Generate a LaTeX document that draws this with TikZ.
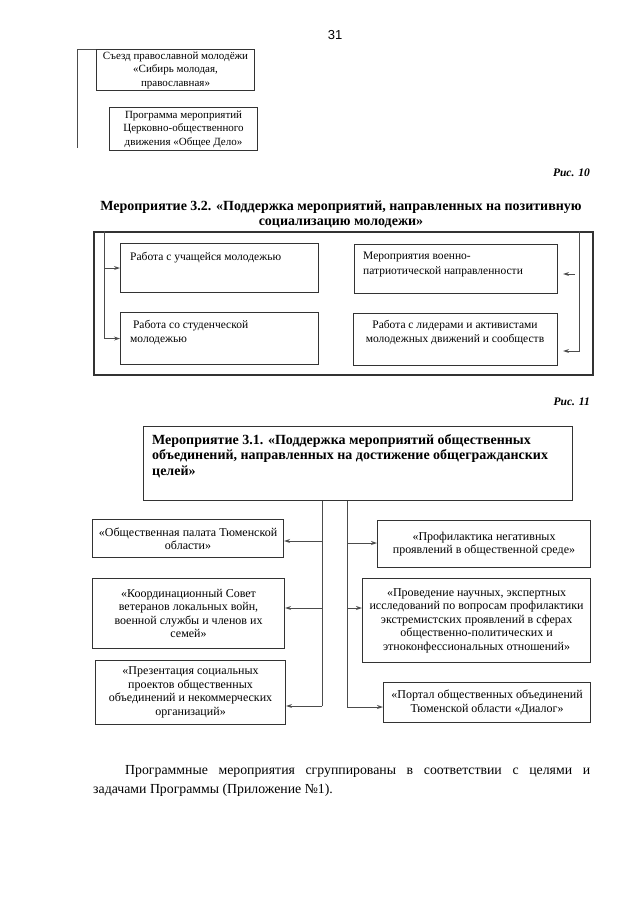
\documentclass[tikz,border=0pt]{standalone}
\usepackage{fontspec}
\setmainfont{Liberation Serif}
\newfontfamily\pagenofont{Liberation Sans}
\usetikzlibrary{positioning,arrows.meta}

\begin{document}
\begin{tikzpicture}[x=1pt, y=-1pt,
  frm/.style={draw=black!80, line width=1.1pt, inner sep=0pt},
  boxtxt/.style={font=\fontsize{12}{13.5}\selectfont, align=center},
  oldtxt/.style={font=\fontsize{11}{13.5}\selectfont, align=center},
  txt/.style={font=\fontsize{11.5}{14.5}\selectfont, inner sep=0pt},
  lnk/.style={draw=black!70, line width=1pt},
  arr/.style={lnk, -{Stealth[length=6pt, width=4pt]}},
  figcap/.style={font=\fontsize{11.5}{13}\selectfont\bfseries\itshape, anchor=east, inner sep=0pt},
  hd/.style={font=\fontsize{14}{15.5}\selectfont\bfseries, inner sep=0pt}]
\useasboundingbox (0,0) rectangle (640,905);
\node[font=\pagenofont\fontsize{13}{15}\selectfont] (pgno) at (335,35) {31};

\node[frm, oldtxt, minimum width=158, minimum height=41, anchor=north west] (syezd) at (96,49) {Съезд православной молодёжи\\«Сибирь молодая,\\православная»};
\node[frm, oldtxt, minimum width=148, minimum height=43, anchor=north west] (delo) at (109,107) {Программа мероприятий\\Церковно-общественного\\движения «Общее Дело»};
\coordinate (tail) at (77,148);
\draw[lnk] (syezd.north west) -| (tail);

\node[figcap] (cap10) at (590,173) {Рис. 10};
\node[hd, align=center] (ttl32) at (341,214.5) {Мероприятие 3.2. «Поддержка мероприятий, направленных на позитивную\\социализацию молодежи»};

\node[frm, line width=1.5pt, minimum width=499, minimum height=143, anchor=north west] (outer) at (93,231) {};
\node[frm, minimum width=198, minimum height=49, anchor=north west] (school) at (120,243) {};
\node[frm, minimum width=198, minimum height=52, anchor=north west] (student) at (120,312) {};
\node[frm, minimum width=203, minimum height=49, anchor=north west] (patriot) at (354,244) {};
\node[frm, minimum width=204, minimum height=52, anchor=north west] (leader) at (353,313) {};
\node[txt, anchor=north west] (schoolt) at (130,252) {Работа с учащейся молодежью};
\node[txt, anchor=north west, align=left] (studentt) at (130,320) {\ Работа со студенческой\\молодежью};
\node[txt, anchor=north west, align=left] (patriott) at (363,252) {Мероприятия военно-\\патриотической направленности};
\node[txt, anchor=north, align=center] (leadert) at (455,320) {Работа с лидерами и активистами\\молодежных движений и сообществ};
\coordinate (ltop) at (104,231);
\coordinate (rtop) at (579,231);
\coordinate (pstub) at (575,274);
\draw[arr] (ltop |- school.west) -- (school.west);
\draw[arr] (ltop) |- (student.west);
\draw[arr, shorten >=5pt] (rtop) |- (leader.east |- 0,351);
\draw[arr, shorten >=5pt] (pstub) -- (patriot.east |- pstub);

\node[figcap] (cap11) at (590,402) {Рис. 11};
\node[frm, minimum width=429, minimum height=74, anchor=north west] (hdr) at (143,426) {};
\node[hd, align=left, anchor=north west] (hdrt) at (152,434) {Мероприятие 3.1. «Поддержка мероприятий общественных\\объединений, направленных на достижение общегражданских\\целей»};

\node[frm, boxtxt, minimum width=191, minimum height=38, anchor=north west] (pal) at (92,519) {«Общественная палата Тюменской\\области»};
\node[frm, boxtxt, minimum width=192, minimum height=70, anchor=north west] (vet) at (92,578) {«Координационный Совет\\ветеранов локальных войн,\\военной службы и членов их\\семей»};
\node[frm, boxtxt, minimum width=190, minimum height=64, anchor=north west] (pres) at (95,660) {«Презентация социальных\\проектов общественных\\объединений и некоммерческих\\организаций»};
\node[frm, boxtxt, minimum width=213, minimum height=47, anchor=north west] (prof) at (377,520) {«Профилактика негативных\\проявлений в общественной среде»};
\node[frm, boxtxt, minimum width=228, minimum height=84, anchor=north west] (nauch) at (362,578) {«Проведение научных, экспертных\\исследований по вопросам профилактики\\экстремистских проявлений в сферах\\общественно-политических и\\этноконфессиональных отношений»};
\node[frm, boxtxt, minimum width=207, minimum height=40, anchor=north west] (portal) at (383,682) {«Портал общественных объединений\\Тюменской области «Диалог»};
\coordinate (lbus) at (hdr.south -| 322,0);
\coordinate (rbus) at (hdr.south -| 347,0);
\draw[lnk] (lbus) -- (lbus |- 0,706);
\draw[lnk] (rbus) -- (rbus |- 0,707);
\foreach \b/\h in {pal/541, vet/608, pres/706} {\draw[arr] (lbus |- 0,\h) -- (\b.east |- 0,\h);}
\foreach \b/\h in {prof/543, nauch/608, portal/707} {\draw[arr] (rbus |- 0,\h) -- (\b.west |- 0,\h);}

\node[anchor=north west, text width=497, align=justify, inner sep=0pt, font=\fontsize{13.8}{19}\selectfont] (para) at (93,765) {\hspace*{32pt}Программные мероприятия сгруппированы в соответствии с целями и\linebreak задачами Программы (Приложение №1).};
\end{tikzpicture}
\end{document}
